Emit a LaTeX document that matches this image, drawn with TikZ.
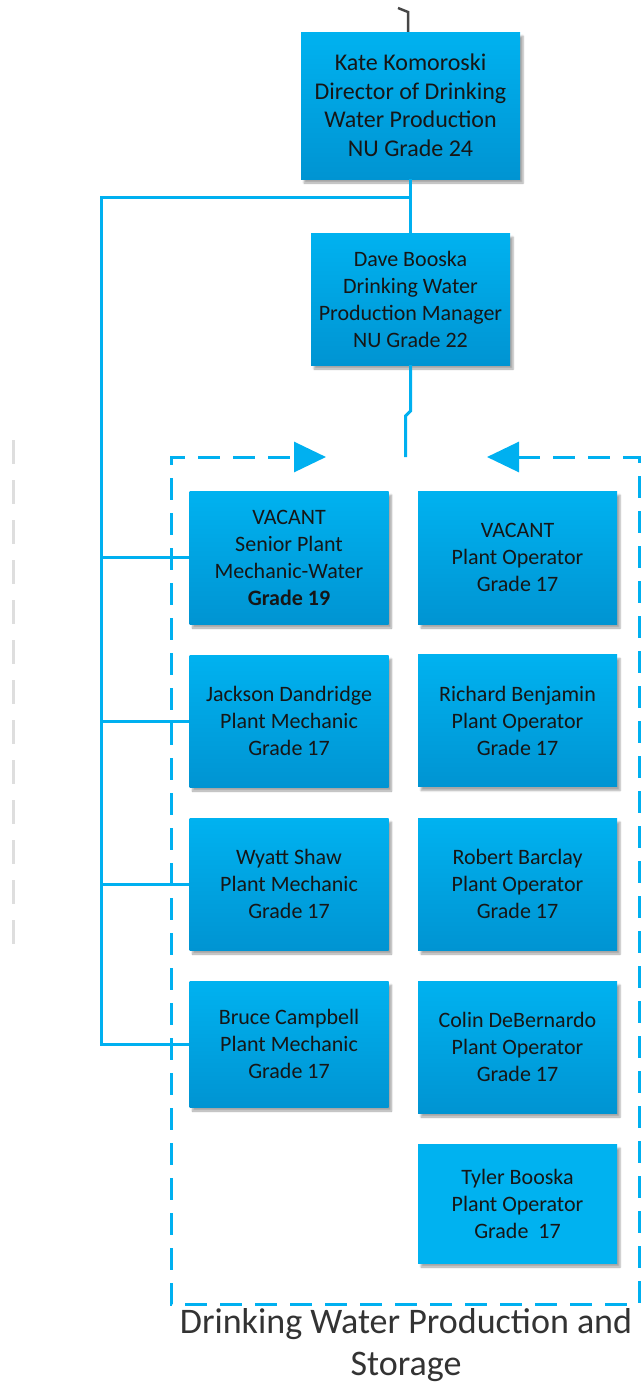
\documentclass[tikz,border=0pt]{standalone}
\usepackage{fontspec}
\setmainfont{Carlito}
\usetikzlibrary{arrows.meta,shadows.blur}
\definecolor{boxtop}{RGB}{0,178,240}
\definecolor{boxbot}{RGB}{0,148,210}
\definecolor{lineblue}{RGB}{0,176,240}
\definecolor{txt}{RGB}{22,22,22}
\definecolor{ghost}{RGB}{222,222,222}
\definecolor{topline}{RGB}{70,70,70}
\tikzset{
  posbox/.style={rectangle, draw=none, top color=boxtop, bottom color=boxbot,
    inner sep=0pt, align=center, text=txt,
    minimum width=199pt, minimum height=132pt,
    font=\fontsize{22}{27}\selectfont,
    blur shadow={shadow xshift=3pt, shadow yshift=-4pt, shadow blur steps=5, shadow opacity=35}},
  bigbox/.style={posbox, font=\fontsize{24}{28.5}\selectfont},
  flatbox/.style={posbox, top color=boxtop, bottom color=boxtop},
  link/.style={draw=lineblue, line width=3pt},
  frameline/.style={draw=lineblue, line width=3pt, dash pattern=on 22pt off 13pt,
    {Triangle[length=32pt,width=30pt]}-{Triangle[length=32pt,width=30pt]}},
  ghostline/.style={draw=ghost, line width=3pt, dash pattern=on 24pt off 16pt},
  titletext/.style={align=center, text={black!80}, font=\fontsize{36}{42}\selectfont, inner sep=0pt}
}
\begin{document}
\begin{tikzpicture}[x=1pt,y=-1pt]
\useasboundingbox (0,0) rectangle (641,1390);

% ghost dashed line at left
\coordinate (g1) at (13,440);
\coordinate (g2) at (13,945);
\draw[ghostline] (g1) -- (g2);

% boxes
\node[bigbox, minimum width=219pt, minimum height=147pt] (kate) at (410.5,105.5)
  {Kate Komoroski\\Director of Drinking\\Water Production\\NU Grade 24};
\node[posbox] (dave) at (410.5,299)
  {Dave Booska\\Drinking Water\\Production Manager\\NU Grade 22};

\node[posbox, minimum height=133pt] (senior) at (289,557.5)
  {VACANT\\Senior Plant\\Mechanic-Water\\\textbf{Grade 19}};
\node[posbox] (jackson) at (289,721)
  {Jackson Dandridge\\Plant Mechanic\\Grade 17};
\node[posbox] (wyatt) at (289,884)
  {Wyatt Shaw\\Plant Mechanic\\Grade 17};
\node[posbox, minimum height=126pt] (bruce) at (289,1044)
  {Bruce Campbell\\Plant Mechanic\\Grade 17};

\node[posbox, minimum height=133pt] (vacop) at (517.5,557.5)
  {VACANT\\Plant Operator\\Grade 17};
\node[posbox] (richard) at (517.5,720.5)
  {Richard Benjamin\\Plant Operator\\Grade 17};
\node[posbox] (robert) at (517.5,884)
  {Robert Barclay\\Plant Operator\\Grade 17};
\node[posbox] (colin) at (517.5,1047)
  {Colin DeBernardo\\Plant Operator\\Grade 17};
\node[flatbox, minimum height=119pt] (tyler) at (517.5,1203.5)
  {Tyler Booska\\Plant Operator\\Grade\ \ 17};

% incoming line at top of Kate
\coordinate (in0) at (398,8);
\coordinate (in1) at (408,12);
\draw[draw=topline, line width=2.5pt] (in0) -- (in1) -- (in1 |- kate.north);

% Kate to Dave and trunk
\coordinate (j0) at (410.5,197);
\coordinate (t0) at (101,197);
\draw[link] (kate.south) -- (dave.north);
\draw[link] (j0) -- (t0) -- (t0 |- bruce.west) -- (bruce.west);
\draw[link] (t0 |- senior.west) -- (senior.west);
\draw[link] (t0 |- jackson.west) -- (jackson.west);
\draw[link] (t0 |- wyatt.west) -- (wyatt.west);

% Dave down to group
\coordinate (d1) at (410.5,411);
\coordinate (d2) at (405.5,416);
\coordinate (d3) at (405.5,457);
\draw[link] (dave.south) -- (d1) -- (d2) -- (d3);

% dashed group frame with arrows
\coordinate (f0) at (487,457);
\coordinate (f1) at (639,457);
\coordinate (f2) at (639,1304);
\coordinate (f3) at (171,1304);
\coordinate (f4) at (171,457);
\coordinate (f5) at (326,457);
\draw[frameline] (f0) -- (f1) -- (f2) -- (f3) -- (f4) -- (f5);

% title
\node[titletext] (title) at (406,1345) {Drinking Water Production and\\Storage};
\end{tikzpicture}
\end{document}
